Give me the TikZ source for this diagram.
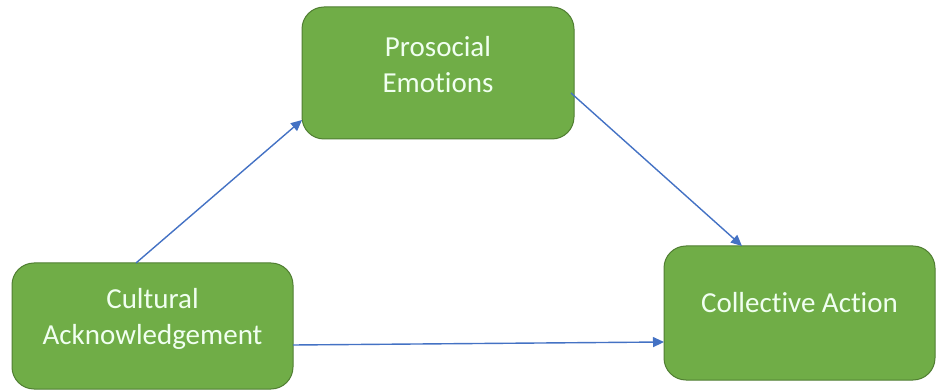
\documentclass[tikz,border=0pt]{standalone}
\usepackage{fontspec}
\setmainfont[Ligatures=NoCommon]{Carlito}
\usetikzlibrary{arrows.meta}
\definecolor{boxfill}{HTML}{70AD47}
\definecolor{boxline}{HTML}{507E32}
\definecolor{arrowblue}{HTML}{4472C4}
\begin{document}
\begin{tikzpicture}[x=1pt,y=1pt,
  greenbox/.style={draw=boxline, line width=1pt, fill=boxfill, rounded corners=22pt,
    inner sep=0pt, outer sep=0pt},
  boxtext/.style={text=white!94!green, font=\fontsize{29}{36}\selectfont, align=center},
  conn/.style={draw=arrowblue, line width=1.4pt, -{Triangle[length=11pt,width=10pt]}}]
\useasboundingbox (0,0) rectangle (937,391);
\node[greenbox, minimum width=272pt, minimum height=132pt] (pros) at (438,318) {};
\node[greenbox, minimum width=281pt, minimum height=126pt] (cult) at (152.5,65) {};
\node[greenbox, minimum width=271pt, minimum height=134pt] (coll) at (799.5,78) {};
\node[boxtext] (prost) at ([yshift=8pt]pros.center) {Prosocial\\Emotions};
\node[boxtext] (cultt) at ([yshift=7pt]cult.center) {Cultural\\Acknowledgement};
\node[boxtext] (collt) at ([yshift=10pt]coll.center) {Collective Action};
\draw[conn] ([xshift=-16.5pt]cult.north) -- ([yshift=-47pt]pros.west);
\draw[conn] ([xshift=-3pt,yshift=-20pt]pros.east) -- ([xshift=-57.5pt]coll.north);
\draw[conn] ([yshift=-19pt]cult.east) -- ([yshift=-29pt]coll.west);
\end{tikzpicture}
\end{document}
